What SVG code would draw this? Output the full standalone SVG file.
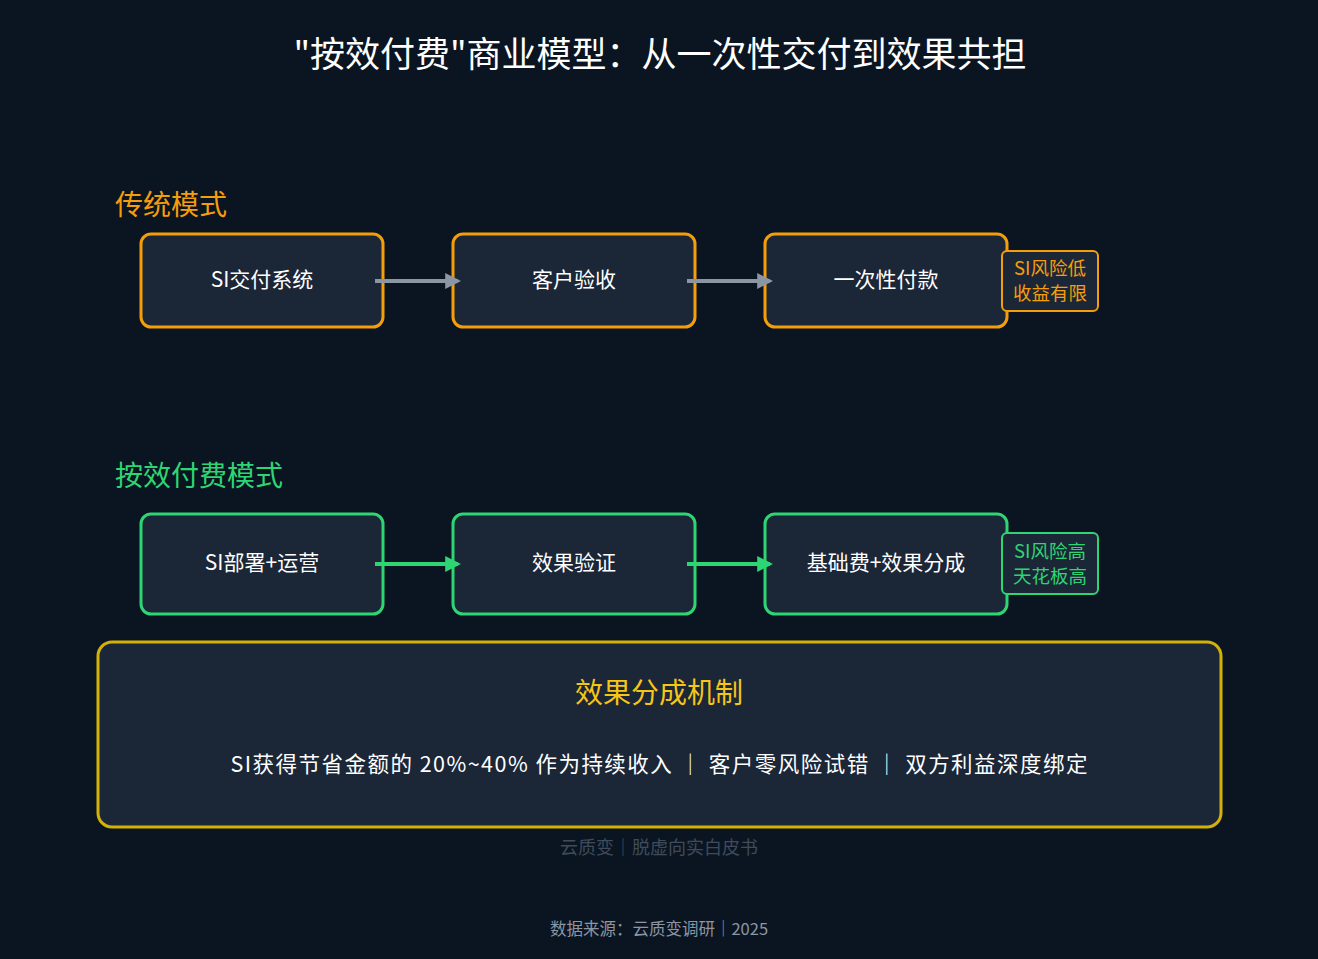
<svg xmlns="http://www.w3.org/2000/svg" width="1318" height="959" viewBox="0 0 1318 959">
<defs>
<style>
text{font-family:"Noto Sans CJK SC","Noto Sans",sans-serif}
.box{fill:#1b2637;stroke-width:3}
.o{stroke:#f59e0b}.g{stroke:#2ed573}
.t{fill:#ffffff;font-size:21px;text-anchor:middle}
.tag{fill:#1b2637;stroke-width:2}
</style>
<marker id="ag" viewBox="0 0 10 10" refX="8" refY="5" markerWidth="4" markerHeight="4" orient="auto"><path d="M0,0L10,5L0,10z" fill="#8a96a3"/></marker>
<marker id="agn" viewBox="0 0 10 10" refX="8" refY="5" markerWidth="4" markerHeight="4" orient="auto"><path d="M0,0L10,5L0,10z" fill="#2ed573"/></marker>
</defs>
<rect width="1318" height="959" fill="#0b1522"/>
<text x="660" y="67" font-size="35" fill="#fff" text-anchor="middle">"按效付费"商业模型：从一次性交付到效果共担</text>
<text x="115" y="215" font-size="28" fill="#f59e0b">传统模式</text>
<text x="115" y="486" font-size="28" fill="#2ed573">按效付费模式</text>
<g id="n1"><rect class="box o" x="141" y="234" width="242" height="93" rx="10"/><text class="t" x="262" y="287">SI交付系统</text></g>
<g id="n2"><rect class="box o" x="453" y="234" width="242" height="93" rx="10"/><text class="t" x="574" y="287">客户验收</text></g>
<g id="n3"><rect class="box o" x="765" y="234" width="242" height="93" rx="10"/><text class="t" x="886" y="287">一次性付款</text></g>
<g id="tag1"><rect class="tag o" x="1002" y="251" width="96" height="60" rx="5"/><text x="1050" y="275" font-size="18.5" fill="#f59e0b" text-anchor="middle">SI风险低</text><text x="1050" y="300" font-size="18.5" fill="#f59e0b" text-anchor="middle">收益有限</text></g>
<g id="n4"><rect class="box g" x="141" y="514" width="242" height="100" rx="10"/><text class="t" x="262" y="570">SI部署+运营</text></g>
<g id="n5"><rect class="box g" x="453" y="514" width="242" height="100" rx="10"/><text class="t" x="574" y="570">效果验证</text></g>
<g id="n6"><rect class="box g" x="765" y="514" width="242" height="100" rx="10"/><text class="t" x="886" y="570">基础费+效果分成</text></g>
<g id="tag2"><rect class="tag g" x="1002" y="533" width="96" height="61" rx="5"/><text x="1050" y="558" font-size="18.5" fill="#2ed573" text-anchor="middle">SI风险高</text><text x="1050" y="583" font-size="18.5" fill="#2ed573" text-anchor="middle">天花板高</text></g>
<g id="connectors">
<line x1="375" y1="281" x2="458" y2="281" stroke="#8a96a3" stroke-width="4" marker-end="url(#ag)"/>
<line x1="687" y1="281" x2="770" y2="281" stroke="#8a96a3" stroke-width="4" marker-end="url(#ag)"/>
<line x1="375" y1="564" x2="458" y2="564" stroke="#2ed573" stroke-width="4" marker-end="url(#agn)"/>
<line x1="687" y1="564" x2="770" y2="564" stroke="#2ed573" stroke-width="4" marker-end="url(#agn)"/>
</g>
<g id="mech"><rect x="98" y="642" width="1123" height="185" rx="14" fill="#1b2637" stroke="#d4b106" stroke-width="3"/>
<text x="659" y="703" font-size="28" fill="#f5c518" text-anchor="middle">效果分成机制</text>
<text x="659" y="772" font-size="21.5" fill="#fff" text-anchor="middle" textLength="857" lengthAdjust="spacing">SI获得节省金额的 20%~40% 作为持续收入 ｜ 客户零风险试错 ｜ 双方利益深度绑定</text></g>
<text x="659" y="854" font-size="18" fill="#3f4b5a" text-anchor="middle">云质变｜脱虚向实白皮书</text>
<text x="659" y="935" font-size="16.5" fill="#8a96a3" text-anchor="middle">数据来源：云质变调研｜2025</text>
</svg>
